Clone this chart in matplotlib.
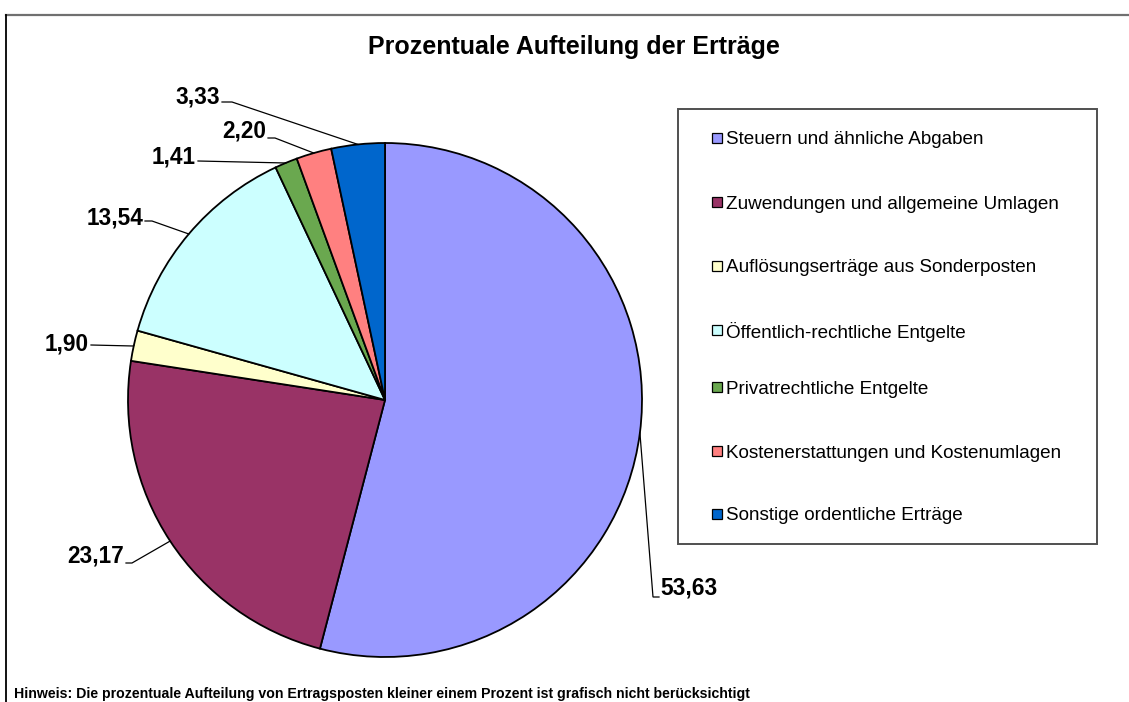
import matplotlib
matplotlib.use("Agg")
import matplotlib.pyplot as plt
from matplotlib.lines import Line2D
from matplotlib.patches import Rectangle
import numpy as np

plt.rcParams['font.family'] = ['Liberation Sans', 'DejaVu Sans']

# ---- data ----
categories = [
    "Steuern und ähnliche Abgaben",
    "Zuwendungen und allgemeine Umlagen",
    "Auflösungserträge aus Sonderposten",
    "Öffentlich-rechtliche Entgelte",
    "Privatrechtliche Entgelte",
    "Kostenerstattungen und Kostenumlagen",
    "Sonstige ordentliche Erträge",
]
values = [53.63, 23.17, 1.90, 13.54, 1.41, 2.20, 3.33]
value_labels = ["53,63", "23,17", "1,90", "13,54", "1,41", "2,20", "3,33"]
colors = ["#9999FF", "#993366", "#FFFFCC", "#CCFFFF", "#6AA84F", "#FF8080", "#0066CC"]

title = "Prozentuale Aufteilung der Erträge"
footnote = ("Hinweis: Die prozentuale Aufteilung von Ertragsposten kleiner einem Prozent "
            "ist grafisch nicht berücksichtigt")

# ---- layout (pixels) ----
W, H = 1129, 702
cx, cy, R = 385, 400, 257

fig = plt.figure(figsize=(W / 100, H / 100), dpi=100)
fig.patch.set_facecolor("white")

ax = fig.add_axes([(cx - R) / W, (H - (cy + R)) / H, 2 * R / W, 2 * R / H])
wedges, _ = ax.pie(values, colors=colors, startangle=90, counterclock=False,
                   radius=1.0, wedgeprops=dict(edgecolor="black", linewidth=1.3))
ax.set_xlim(-1, 1)
ax.set_ylim(-1, 1)
ax.axis("off")

def px2d(px, py):
    return ((px - cx) / R, (cy - py) / R)

# label layout: elbow point, end of horizontal stub, text position, alignment
label_layout = [
    dict(elbow=(653, 597), stub=(659, 597), text=(660, 588), ha="left"),
    dict(elbow=(132, 563), stub=(126, 563), text=(124, 556), ha="right"),
    dict(elbow=(133, 346), stub=(91, 345), text=(89, 344), ha="right"),
    dict(elbow=(152, 221), stub=(145, 221), text=(143, 218), ha="right"),
    dict(elbow=(286, 163), stub=(198, 161), text=(196, 157), ha="right"),
    dict(elbow=(275, 138), stub=(268, 138), text=(266, 131), ha="right"),
    dict(elbow=(232, 102), stub=(222, 102), text=(220, 97), ha="right"),
]

for w, lab, lay in zip(wedges, value_labels, label_layout):
    ang = np.deg2rad((w.theta1 + w.theta2) / 2)
    ex, ey = np.cos(ang), np.sin(ang)
    bx, by = px2d(*lay["elbow"])
    sx, sy = px2d(*lay["stub"])
    ax.plot([ex, bx, sx], [ey, by, sy], color="black", lw=0.9, clip_on=False,
            solid_joinstyle="miter")
    tx, ty = px2d(*lay["text"])
    ax.text(tx, ty, lab, ha=lay["ha"], va="center", fontsize=16.3,
            fontweight="bold", clip_on=False)

# title & footnote
fig.text(574 / W, 1 - 47 / H, title, ha="center", va="center",
         fontsize=18, fontweight="bold")
fig.text(14 / W, 1 - 694 / H, footnote, ha="left", va="center",
         fontsize=10.15, fontweight="bold")

# outer frame (top and left)
fig.add_artist(Line2D([6 / W, 1.0], [1 - 14.5 / H, 1 - 14.5 / H],
                      transform=fig.transFigure, color="#707070", lw=1.6))
fig.add_artist(Line2D([6 / W, 6 / W], [1 - 14.5 / H, 0.0],
                      transform=fig.transFigure, color="black", lw=1.3))

# legend box
lx0, ly0, lx1, ly1 = 678, 109, 1097, 544
fig.add_artist(Rectangle((lx0 / W, 1 - ly1 / H), (lx1 - lx0) / W, (ly1 - ly0) / H,
                         transform=fig.transFigure, facecolor="white",
                         edgecolor="#505050", lw=1.4))
row_y = [138, 202, 266, 330, 387, 451, 514]
ms = 10
for cat, col, yy in zip(categories, colors, row_y):
    fig.add_artist(Rectangle((712 / W, 1 - (yy + ms / 2) / H), ms / W, ms / H,
                             transform=fig.transFigure, facecolor=col,
                             edgecolor="black", lw=0.9))
    fig.text(726 / W, 1 - (yy + 2) / H, cat, ha="left", va="center", fontsize=13.6)

fig.savefig("out.png", dpi=100, facecolor="white")
